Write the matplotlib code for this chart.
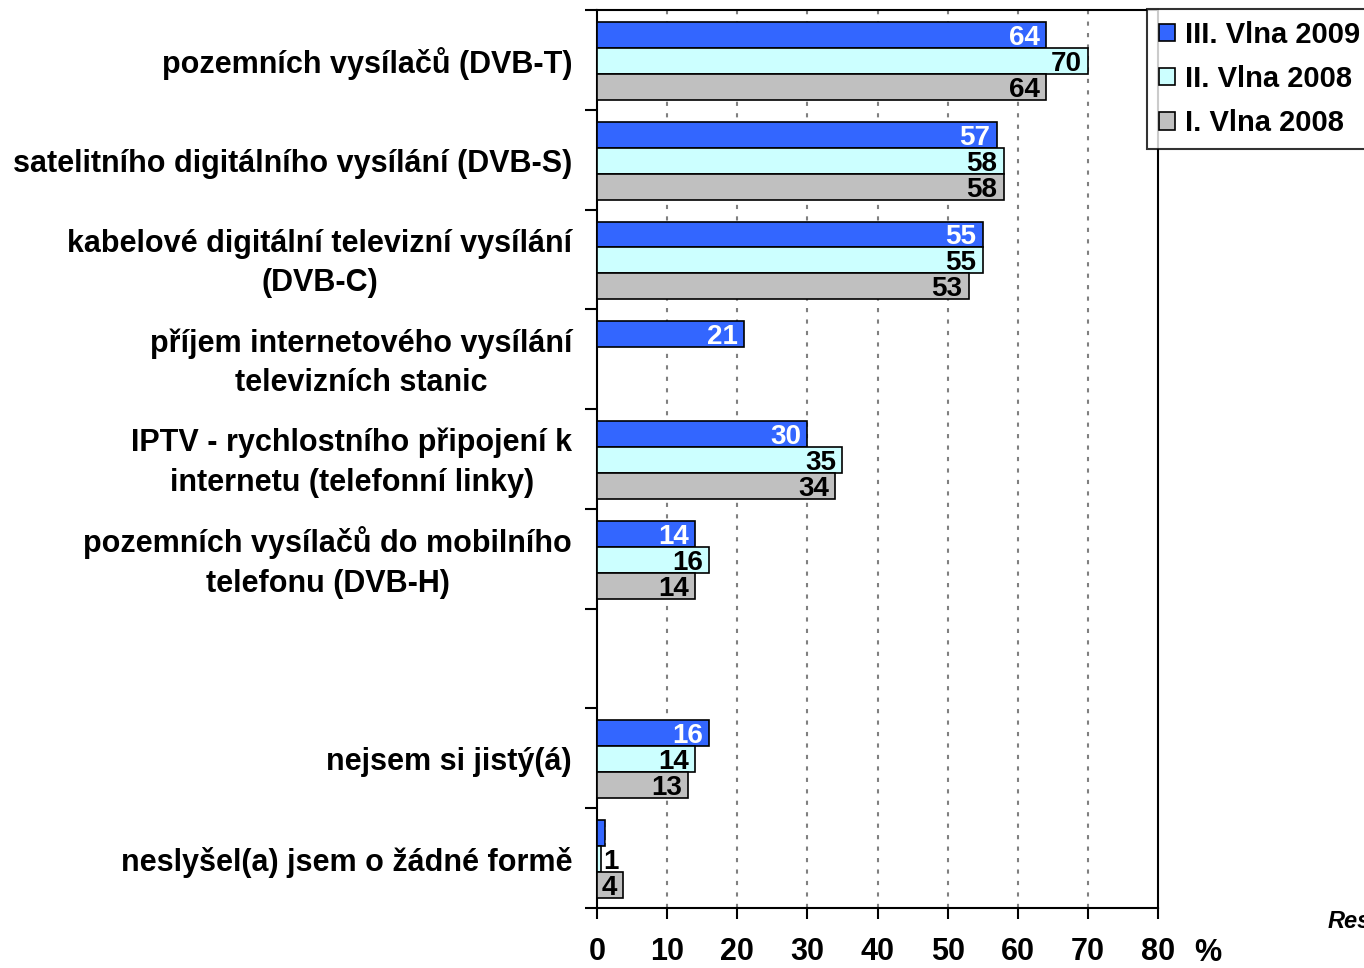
import matplotlib
matplotlib.use("Agg")
import matplotlib.pyplot as plt
from matplotlib.patches import Patch
import numpy as np

plt.rcParams['font.family'] = ['Liberation Sans', 'DejaVu Sans']

categories = [
    "pozemních vysílačů (DVB-T)",
    "satelitního digitálního vysílání (DVB-S)",
    "kabelové digitální televizní vysílání\n(DVB-C)",
    "příjem internetového vysílání\ntelevizních stanic",
    "IPTV - rychlostního připojení k\ninternetu (telefonní linky)",
    "pozemních vysílačů do mobilního\ntelefonu (DVB-H)",
    "",
    "nejsem si jistý(á)",
    "neslyšel(a) jsem o žádné formě",
]
series_names = ["III. Vlna 2009", "II. Vlna 2008", "I. Vlna 2008"]
wave3_2009 = [64, 57, 55, 21, 30, 14, None, 16, 1.2]
wave2_2008 = [70, 58, 55, None, 35, 16, None, 14, 0.6]
wave1_2008 = [64, 58, 53, None, 34, 14, None, 13, 3.7]
xticks = [0, 10, 20, 30, 40, 50, 60, 70, 80]

colors = ["#3366FF", "#CCFFFF", "#C0C0C0"]
label_colors = ["white", "black", "black"]
offsets = [0.25, 0.51, 0.77]
bar_h = 0.26

fig = plt.figure(figsize=(13.64, 9.68), dpi=100)
ax = fig.add_axes([597/1364, 1-908/968, (1158-597)/1364, (908-10)/968])

n = len(categories)
for s, vals in enumerate([wave3_2009, wave2_2008, wave1_2008]):
    for i, v in enumerate(vals):
        if v is None:
            continue
        y = i + offsets[s]
        ax.barh(y, v, height=bar_h, color=colors[s], edgecolor='black', linewidth=1.2, zorder=3)
        txt = f"{v:.0f}"
        if v >= 3:
            ax.text(v - 0.9, y + 0.03, txt, ha='right', va='center', fontsize=20,
                    fontweight='bold', color=label_colors[s], zorder=4)
        else:
            ax.text(0.9, y + 0.03, txt, ha='left', va='center', fontsize=20,
                    fontweight='bold', color=label_colors[s], zorder=4)

ax.set_xlim(0, 80)
ax.set_ylim(n, 0)
ax.set_xticks(xticks)
ax.set_xticklabels([str(t) for t in xticks], fontsize=22, fontweight='bold')
ax.tick_params(axis='x', direction='out', length=8, width=1.5, pad=13)
ax.set_yticks(np.arange(0, n + 1))
ax.set_yticklabels([])
ax.tick_params(axis='y', direction='out', length=9, width=1.5)
for t in xticks[1:-1]:
    ax.axvline(t, color='#808080', linestyle=(0, (2, 3.5)), linewidth=1.5, zorder=1)
for sp in ax.spines.values():
    sp.set_linewidth(1.5)

for i, c in enumerate(categories):
    if c:
        ax.text(-3.55, i + 0.54, c, ha='right', va='center', multialignment='center',
                fontsize=22, fontweight='bold', linespacing=1.42,
                transform=ax.transData)

fig.text(1208/1364, 1-953/968, "%", ha='center', va='center', fontsize=22, fontweight='bold')
fig.text(1328/1364, 1-922/968, "Res", ha='left', va='center', fontsize=17,
         fontweight='bold', fontstyle='italic')

handles = [Patch(facecolor=colors[k], edgecolor='black', linewidth=1.2) for k in range(3)]
leg = fig.legend(handles, series_names, loc='upper left',
                 bbox_to_anchor=(1147/1364, 1-9/968), frameon=True, fancybox=False,
                 prop={'size': 21, 'weight': 'bold'}, handlelength=0.55, handleheight=0.55,
                 handletextpad=0.35, labelspacing=0.56, borderpad=0.4, borderaxespad=0)
leg.get_frame().set_edgecolor('black')
leg.get_frame().set_linewidth(1.5)

fig.savefig("out.png", dpi=100)
